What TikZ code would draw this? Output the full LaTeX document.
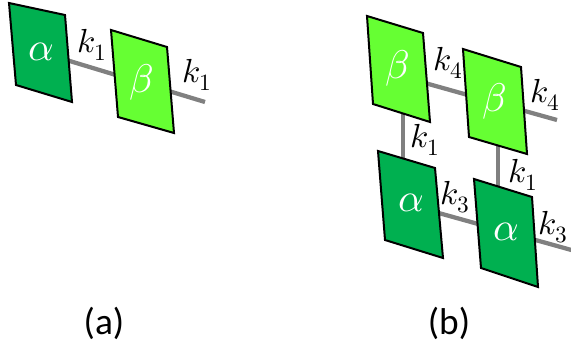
\documentclass[tikz,border=0pt]{standalone}
\usepackage{fontspec}
\usepackage{unicode-math}
\setmathfont{Latin Modern Math}
\setsansfont{Carlito}
\definecolor{agreen}{HTML}{00B050}
\definecolor{bgreen}{HTML}{66FF33}
\definecolor{bondgray}{HTML}{808080}
\begin{document}
\begin{tikzpicture}[x=0.75pt,y=-0.75pt,
  bond/.style={draw=bondgray,line width=3.2pt},
  abox/.style={draw=black,line width=1.5pt,fill=agreen,line join=miter},
  bbox/.style={draw=black,line width=1.5pt,fill=bgreen,line join=miter},
  glab/.style={text=white,font=\fontsize{30}{34}\selectfont,inner sep=0pt},
  klab/.style={text=black,font=\fontsize{25}{30}\selectfont,inner sep=0pt},
  plab/.style={font=\sffamily\fontsize{28}{33}\selectfont,inner sep=0pt}]
\useasboundingbox (0,0) rectangle (571,354);
% ---------- panel (a)
\coordinate (a1c) at (40,52);
\coordinate (a1end) at (205,102);
\draw[bond] (a1c) -- (a1end);
\draw[abox] (9,3) -- (65,15) -- (72,102) -- (16,85) -- cycle;
\draw[bbox] (111,30) -- (167,47) -- (174,133) -- (118,117) -- cycle;
\node[glab] (aA) at (41,52) {$\alpha$};
\node[glab] (aB) at (142,82) {$\beta$};
\node[klab] (ak1) at (92,45) {$k_1$};
\node[klab] (ak2) at (197,75) {$k_1$};
\node[plab] (la) at (104,323) {(a)};
% ---------- panel (b)
\coordinate (b4s) at (400,76);
\coordinate (b4e) at (557,120);
\coordinate (b3s) at (410,205);
\coordinate (b3e) at (575,251);
\coordinate (v1s) at (403,70);
\coordinate (v1e) at (403,200);
\coordinate (v2s) at (498,100);
\coordinate (v2e) at (498,230);
\draw[bond] (b4s) -- (b4e);
\draw[bond] (b3s) -- (b3e);
\draw[bond] (v1s) -- (v1e);
\draw[bond] (v2s) -- (v2e);
\draw[bbox] (367,16) -- (423,33) -- (430,122) -- (373,104) -- cycle;
\draw[bbox] (463,49) -- (521,67) -- (527,154) -- (469,137) -- cycle;
\draw[abox] (378,151) -- (435,168) -- (443,258) -- (385,240) -- cycle;
\draw[abox] (474,179) -- (532,197) -- (538,287) -- (481,268) -- cycle;
\node[glab] (bB1) at (398,68) {$\beta$};
\node[glab] (bB2) at (495,101) {$\beta$};
\node[glab] (bA1) at (411,203) {$\alpha$};
\node[glab] (bA2) at (506,232) {$\alpha$};
\node[klab] (k4a) at (448,63) {$k_4$};
\node[klab] (k4b) at (545,95) {$k_4$};
\node[klab] (k1a) at (425,140) {$k_1$};
\node[klab] (k1b) at (523,175) {$k_1$};
\node[klab] (k3a) at (455,197) {$k_3$};
\node[klab] (k3b) at (553,227) {$k_3$};
\node[plab] (lb) at (449,323) {(b)};
\end{tikzpicture}
\end{document}
